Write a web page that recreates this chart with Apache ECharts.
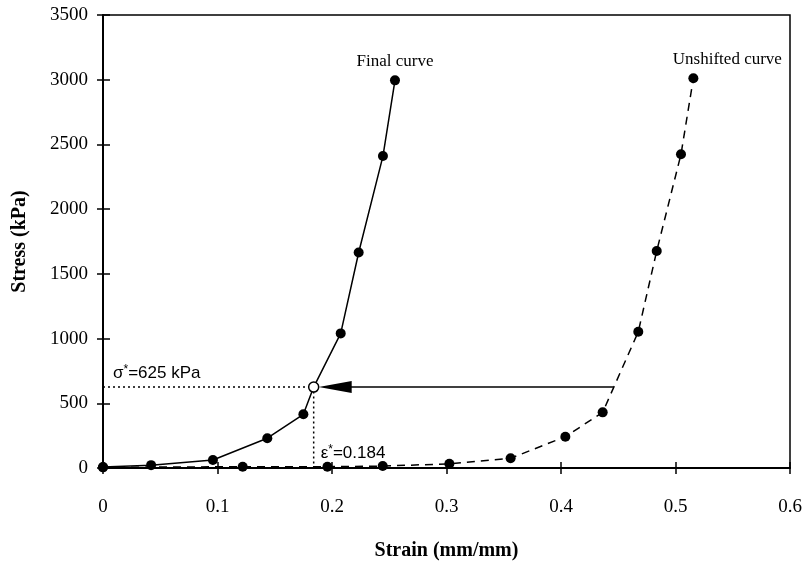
<!DOCTYPE html>
<html>
<head>
<meta charset="utf-8">
<script src="https://cdn.jsdelivr.net/npm/echarts@6/dist/echarts.min.js"></script>
<style>
  html, body { margin: 0; padding: 0; background: #fff; }
  #chart { width: 806px; height: 561px; }
</style>
</head>
<body>
<div id="chart"></div>
<script>
// Shifted (final) stress-strain curve
const finalStrain = [0, 0.042, 0.096, 0.1435, 0.175, 0.184, 0.2076, 0.2233, 0.2445, 0.255];
const finalStress = [8, 22, 62, 230, 415, 625, 1040, 1665, 2410, 2995];

// Original (unshifted) stress-strain curve
const unshiftedStrain = [0, 0.122, 0.196, 0.2443, 0.3025, 0.356, 0.4038, 0.4364, 0.4675, 0.4836, 0.5048, 0.5156];
const unshiftedStress = [5, 10, 10, 15, 32, 75, 242, 430, 1053, 1677, 2424, 3011];

// Reference point and the shift arrow start on the unshifted curve
const starStrain = 0.184;
const starStress = 625;
const arrowFromStrain = 0.446;

// Axis ticks
const xTicks = { min: 0, max: 0.6, interval: 0.1 };
const yTicks = { min: 0, max: 3500, interval: 500 };

const curveNames = ['Final curve', 'Unshifted curve'];

const SERIF = '"Liberation Serif", "Times New Roman", serif';
const SANS = '"Liberation Sans", Arial, sans-serif';

const pair = (xs, ys) => xs.map((x, i) => [x, ys[i]]);

const finalData = pair(finalStrain, finalStress).map((p, i, arr) => {
  const item = { value: p };
  if (p[0] === starStrain && p[1] === starStress) {
    item.itemStyle = { color: '#fff', borderColor: '#000', borderWidth: 1.5 };
    item.z = 10;
  }
  if (i === arr.length - 1) {
    item.label = { show: true, formatter: curveNames[0], position: 'top', distance: 5 };
  }
  return item;
});

const unshiftedData = pair(unshiftedStrain, unshiftedStress).map((p, i, arr) => {
  const item = { value: p };
  if (i === arr.length - 1) {
    item.label = { show: true, formatter: curveNames[1], position: 'top', distance: 5, offset: [34, 0] };
  }
  return item;
});

const chart = echarts.init(document.getElementById('chart'), null, { renderer: 'canvas' });

const axisLabelStyle = { color: '#000', fontFamily: SERIF, fontSize: 19, formatter: v => String(+v.toFixed(2)) };

chart.setOption({
  animation: false,
  backgroundColor: '#fff',
  grid: {
    left: 103, right: 16, top: 15, bottom: 93,
    containLabel: false, outerBoundsMode: 'none',
    show: true, borderColor: '#000', borderWidth: 1.5, backgroundColor: 'transparent'
  },
  xAxis: [
    {
      type: 'value', position: 'bottom', min: xTicks.min, max: xTicks.max, interval: xTicks.interval,
      name: 'Strain (mm/mm)', nameLocation: 'middle', nameGap: 73,
      nameTextStyle: { color: '#000', fontFamily: SERIF, fontSize: 20, fontWeight: 'bold' },
      axisLine: { show: true, onZero: false, lineStyle: { color: '#000', width: 2 } },
      axisTick: { show: true, inside: false, length: 6, lineStyle: { color: '#000', width: 1.5 } },
      axisLabel: { ...axisLabelStyle, margin: 30 },
      splitLine: { show: false }
    },
    {
      type: 'value', position: 'bottom', offset: 0, min: xTicks.min, max: xTicks.max, interval: xTicks.interval,
      axisLine: { show: false, onZero: false },
      axisTick: { show: true, inside: true, length: 6, lineStyle: { color: '#000', width: 1.5 } },
      axisLabel: { show: false },
      splitLine: { show: false }
    }
  ],
  yAxis: [
    {
      type: 'value', position: 'left', min: yTicks.min, max: yTicks.max, interval: yTicks.interval,
      name: 'Stress (kPa)', nameLocation: 'middle', nameGap: 73, nameRotate: 90,
      nameTextStyle: { color: '#000', fontFamily: SERIF, fontSize: 20, fontWeight: 'bold' },
      axisLine: { show: true, onZero: false, lineStyle: { color: '#000', width: 2 } },
      axisTick: { show: true, inside: false, length: 6, lineStyle: { color: '#000', width: 1.5 } },
      axisLabel: { ...axisLabelStyle, margin: 15 },
      splitLine: { show: false }
    },
    {
      type: 'value', position: 'left', offset: 0, min: yTicks.min, max: yTicks.max, interval: yTicks.interval,
      axisLine: { show: false, onZero: false },
      axisTick: { show: true, inside: true, length: 7, lineStyle: { color: '#000', width: 1.5 } },
      axisLabel: { show: false },
      splitLine: { show: false }
    }
  ],
  series: [
    {
      // dotted guide lines to the reference point
      type: 'line', z: 1,
      data: [[0, starStress], [starStrain, starStress], [starStrain, 0]],
      symbol: 'none',
      lineStyle: { color: '#000', width: 1.5, type: [2, 3] },
      silent: true
    },
    {
      name: curveNames[1], type: 'line', z: 3,
      data: unshiftedData,
      symbol: 'circle', symbolSize: 10,
      itemStyle: { color: '#000' },
      lineStyle: { color: '#000', width: 1.5, type: [8, 6] },
      label: { color: '#000', fontFamily: SERIF, fontSize: 17 }
    },
    {
      name: curveNames[0], type: 'line', z: 4,
      data: finalData,
      symbol: 'circle', symbolSize: 10,
      itemStyle: { color: '#000' },
      lineStyle: { color: '#000', width: 1.5 },
      label: { color: '#000', fontFamily: SERIF, fontSize: 17 }
    },
    {
      // shift arrow and reference annotations
      type: 'custom', z: 5, silent: true,
      data: [[starStrain, starStress, arrowFromStrain]],
      renderItem: function (params, api) {
        const p0 = api.coord([api.value(0), api.value(1)]);
        const p1 = api.coord([api.value(2), api.value(1)]);
        const origin = api.coord([0, api.value(1)]);
        const base = api.coord([api.value(0), 0]);
        const tipX = p0[0] + 5;
        const headLen = 33, headHalf = 6;
        const y = p0[1];
        const rich = {
          t: { fontFamily: SANS, fontSize: 17, fill: '#000', lineHeight: 19 },
          s: { fontFamily: SANS, fontSize: 12, fill: '#000', verticalAlign: 'top', lineHeight: 19 }
        };
        return {
          type: 'group',
          children: [
            { type: 'line', shape: { x1: p1[0], y1: y, x2: tipX + headLen - 2, y2: y },
              style: { stroke: '#000', lineWidth: 1.5 } },
            { type: 'polygon', shape: { points: [[tipX, y], [tipX + headLen, y - headHalf], [tipX + headLen, y + headHalf]] },
              style: { fill: '#000' } },
            { type: 'text', x: origin[0] + 10, y: y - 4,
              style: {
                text: '{t|σ}{s|*}{t|=' + api.value(1) + ' kPa}',
                textVerticalAlign: 'bottom', textAlign: 'left', rich: rich
              } },
            { type: 'text', x: base[0] + 7, y: base[1] - 5,
              style: {
                text: '{t|ε}{s|*}{t|=' + api.value(0) + '}',
                textVerticalAlign: 'bottom', textAlign: 'left', rich: rich
              } }
          ]
        };
      }
    }
  ]
});
</script>
</body>
</html>
